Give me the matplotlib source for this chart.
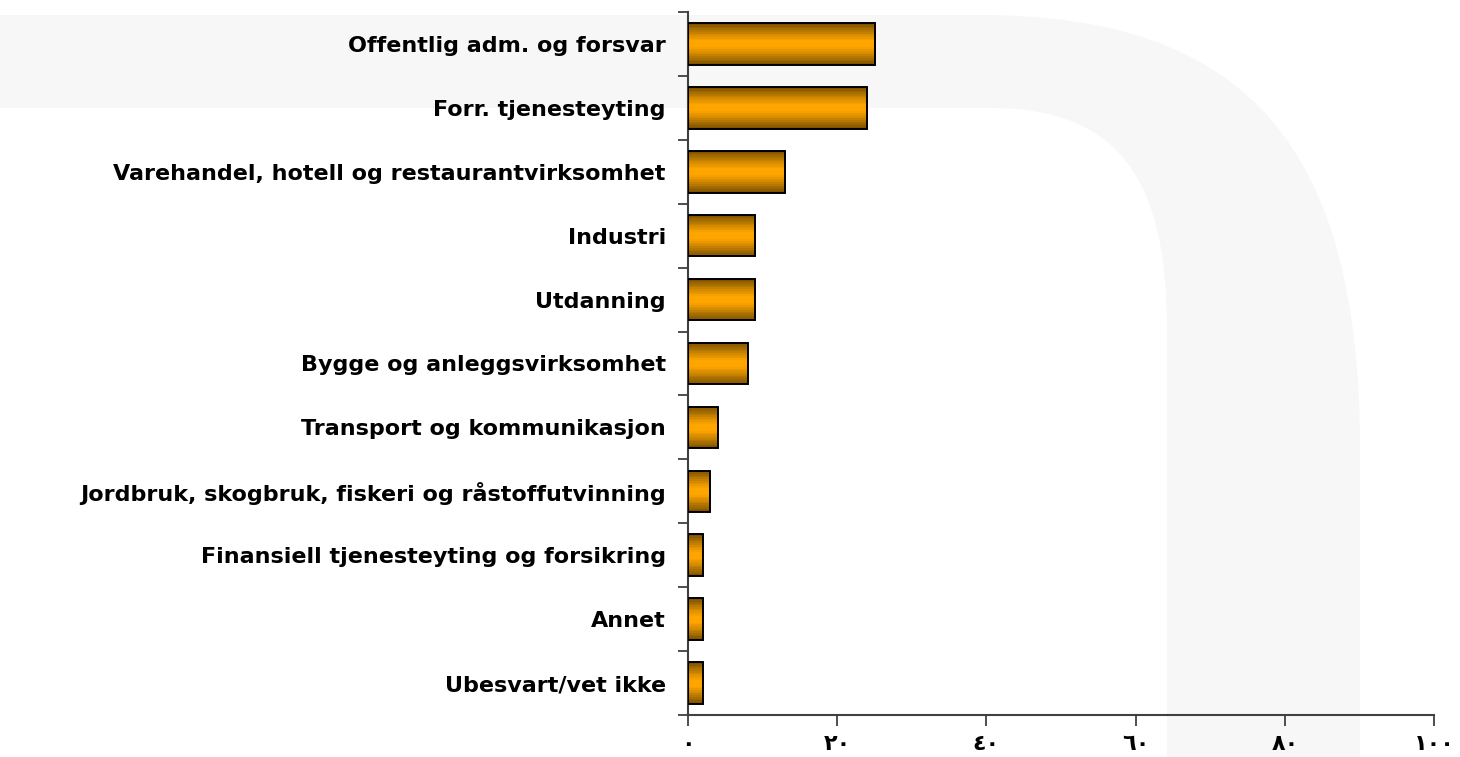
import numpy as np
import matplotlib
matplotlib.use("Agg")
import matplotlib.pyplot as plt
from matplotlib.path import Path
from matplotlib.patches import PathPatch
from matplotlib.colors import LinearSegmentedColormap

plt.rcParams['font.family'] = ['DejaVu Sans', 'Noto Sans']

categories = [
    "Offentlig adm. og forsvar",
    "Forr. tjenesteyting",
    "Varehandel, hotell og restaurantvirksomhet",
    "Industri",
    "Utdanning",
    "Bygge og anleggsvirksomhet",
    "Transport og kommunikasjon",
    "Jordbruk, skogbruk, fiskeri og råstoffutvinning",
    "Finansiell tjenesteyting og forsikring",
    "Annet",
    "Ubesvart/vet ikke",
]
values = [25, 24, 13, 9, 9, 8, 4, 3, 2, 2, 2]
xticks = [0, 20, 40, 60, 80, 100]
xtick_labels = ["٠", "٢٠", "٤٠", "٦٠", "٨٠", "١٠٠"]

W, H = 1460, 757
fig = plt.figure(figsize=(W / 100, H / 100), dpi=100)

# light grey arch in the background, drawn in pixel coords
bg = fig.add_axes([0, 0, 1, 1], zorder=0)
bg.set_xlim(0, W)
bg.set_ylim(H, 0)
bg.axis('off')
verts = [
    (0, 15), (980, 15),
    (1250, 15), (1360, 150), (1360, 450),
    (1360, H), (1167, H), (1167, 330),
    (1167, 180), (1120, 108), (990, 108),
    (0, 108), (0, 15),
]
codes = [Path.MOVETO, Path.LINETO,
         Path.CURVE4, Path.CURVE4, Path.CURVE4,
         Path.LINETO, Path.LINETO, Path.LINETO,
         Path.CURVE4, Path.CURVE4, Path.CURVE4,
         Path.LINETO, Path.CLOSEPOLY]
bg.add_patch(PathPatch(Path(verts, codes), facecolor='#f7f7f7', edgecolor='none'))

ax = fig.add_axes([688 / W, 1 - 715 / H, (1434 - 688) / W, (715 - 12) / H], zorder=1)
ax.patch.set_alpha(0)

y = np.arange(len(categories))
bar_h = 0.65
cmap = LinearSegmentedColormap.from_list(
    'shade', ['#7a4e00', '#a86e00', '#d88c00', '#ffa500', '#ffa500', '#d88c00', '#a86e00', '#7a4e00'])

# shaded bars: thin strips stacked across the bar height
n_strips = 24
edges = np.linspace(-bar_h / 2, bar_h / 2, n_strips + 1)
for k in range(n_strips):
    c = cmap((k + 0.5) / n_strips)
    ax.barh(y + (edges[k] + edges[k + 1]) / 2, values, height=edges[k + 1] - edges[k],
            color=c, edgecolor='none', linewidth=0, zorder=2)
ax.barh(y, values, height=bar_h, fill=False, edgecolor='black', linewidth=1.4, zorder=3)

ax.set_xlim(0, 100)
ax.set_ylim(len(categories) - 0.5, -0.5)

ax.set_yticks(y)
ax.set_yticklabels(categories, fontsize=16, fontweight='bold')
ax.tick_params(axis='y', which='major', length=0, pad=16)
ax.set_yticks(np.arange(-0.5, len(categories)), minor=True)
ax.tick_params(axis='y', which='minor', length=7, width=1.3, color='#404040')

ax.set_xticks(xticks)
ax.set_xticklabels(xtick_labels, fontsize=16, fontweight='bold')
ax.tick_params(axis='x', length=8, width=1.3, color='#404040', pad=6)

for s in ['top', 'right']:
    ax.spines[s].set_visible(False)
for s in ['left', 'bottom']:
    ax.spines[s].set_linewidth(1.5)
    ax.spines[s].set_color('#404040')

fig.savefig('out.png', dpi=100)
